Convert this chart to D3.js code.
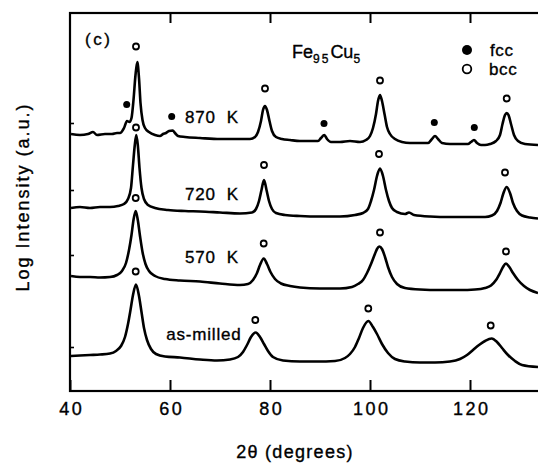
<!DOCTYPE html>
<html><head><meta charset="utf-8">
<script src="https://cdn.jsdelivr.net/npm/d3@7"></script>
<style>
html,body{margin:0;padding:0;background:#fff;}
svg{display:block;}
text{font-family:"Liberation Sans",Arial,Helvetica,sans-serif;fill:#000;stroke:#000;stroke-width:0.35px;}
</style></head><body>
<svg id="chart" width="538" height="467"></svg>
<script>
// ---- data (2θ in degrees, log intensity in arbitrary units) ----
const xTicks = [40, 60, 80, 100, 120];
const topTicks = [60, 80, 100, 120];
const yTickMarks = [5.36, 4.02, 2.72, 0.88];
const curveNames = ["870  K", "720  K", "570  K", "as-milled"];

const scan870 = [[40.2,5.14],[42.0,5.12],[43.6,5.14],[44.6,5.18],[45.4,5.12],[47.0,5.14],[48.4,5.14],[49.4,5.16],[50.0,5.16],[50.8,5.26],[51.4,5.40],[51.9,5.38],[52.3,5.46],[52.7,5.82],[53.1,6.32],[53.46,6.58],[53.8,6.26],[54.1,5.76],[54.5,5.42],[55.0,5.26],[55.8,5.18],[57.0,5.12],[58.0,5.10],[58.6,5.14],[59.2,5.16],[59.8,5.20],[60.54,5.21],[61.0,5.16],[61.6,5.10],[63.0,5.08],[66.0,5.06],[70.0,5.04],[74.0,5.04],[76.0,5.04],[77.0,5.08],[77.6,5.18],[78.2,5.40],[78.6,5.62],[79.0,5.70],[79.4,5.62],[79.9,5.40],[80.4,5.20],[81.2,5.08],[82.4,5.04],[84.0,5.02],[86.0,5.00],[88.0,5.00],[89.6,5.00],[90.2,5.06],[90.86,5.12],[91.4,5.04],[92.2,4.98],[94.0,4.98],[96.0,5.00],[98.0,4.98],[99.2,5.02],[100.0,5.10],[100.6,5.26],[101.2,5.54],[101.6,5.80],[102.0,5.92],[102.4,5.80],[102.9,5.54],[103.4,5.28],[104.0,5.14],[105.0,5.04],[106.4,4.98],[108.0,4.96],[110.0,4.96],[111.6,4.96],[112.4,5.04],[113.0,5.10],[113.6,5.04],[114.4,4.96],[116.0,4.94],[118.0,4.94],[119.6,4.94],[120.2,4.98],[120.8,5.02],[121.4,4.96],[122.2,4.92],[123.0,4.92],[124.0,4.94],[125.2,5.00],[126.0,5.12],[126.5,5.34],[127.0,5.52],[127.34,5.56],[127.7,5.52],[128.2,5.34],[128.8,5.12],[129.6,5.00],[131.0,4.94],[133.6,4.92]];

const scan720 = [[40.2,3.66],[42.0,3.68],[44.0,3.66],[46.0,3.68],[48.0,3.68],[49.6,3.70],[50.8,3.74],[51.6,3.84],[52.2,4.06],[52.6,4.52],[52.96,4.92],[53.26,5.12],[53.56,4.92],[53.9,4.46],[54.3,4.06],[54.8,3.84],[55.6,3.72],[57.0,3.66],[59.6,3.62],[63.0,3.60],[66.0,3.59],[70.0,3.57],[74.0,3.55],[76.4,3.57],[77.2,3.64],[77.8,3.80],[78.3,4.02],[78.8,4.22],[79.3,4.02],[79.8,3.80],[80.4,3.64],[81.2,3.56],[83.0,3.52],[86.0,3.50],[90.0,3.49],[94.0,3.49],[97.0,3.52],[98.6,3.56],[99.6,3.64],[100.2,3.80],[100.8,4.02],[101.4,4.30],[102.0,4.45],[102.6,4.30],[103.2,4.02],[103.8,3.80],[104.4,3.66],[105.4,3.58],[107.0,3.54],[107.8,3.57],[108.8,3.52],[112.0,3.49],[116.0,3.48],[120.0,3.48],[123.0,3.48],[124.4,3.51],[125.4,3.60],[126.1,3.76],[126.7,3.96],[127.34,4.08],[128.0,3.96],[128.6,3.76],[129.4,3.60],[130.4,3.51],[132.0,3.47],[133.6,3.45]];

const scan570 = [[40.2,2.30],[42.0,2.28],[44.0,2.28],[46.0,2.27],[48.0,2.28],[49.4,2.32],[50.4,2.40],[51.2,2.56],[51.8,2.82],[52.3,3.12],[52.7,3.42],[53.14,3.60],[53.56,3.42],[54.0,3.10],[54.5,2.78],[55.1,2.54],[55.8,2.40],[57.0,2.30],[59.0,2.24],[62.0,2.21],[66.0,2.19],[70.0,2.15],[74.0,2.12],[75.6,2.14],[76.6,2.22],[77.4,2.36],[78.0,2.52],[78.74,2.65],[79.4,2.54],[80.1,2.38],[81.0,2.24],[82.2,2.15],[84.0,2.10],[86.0,2.07],[90.0,2.05],[94.0,2.05],[96.4,2.08],[97.6,2.14],[98.6,2.22],[99.4,2.36],[100.2,2.54],[100.9,2.72],[101.4,2.84],[101.86,2.89],[102.4,2.84],[103.0,2.68],[103.6,2.48],[104.4,2.28],[105.4,2.14],[107.0,2.06],[110.0,2.03],[114.0,2.02],[118.0,2.02],[121.0,2.03],[123.0,2.06],[124.2,2.11],[125.2,2.22],[126.0,2.36],[126.6,2.48],[127.2,2.55],[127.8,2.49],[128.6,2.36],[129.6,2.22],[130.8,2.10],[132.0,2.02],[133.6,1.96]];

const scanMilled = [[40.2,0.70],[42.0,0.71],[44.0,0.72],[46.0,0.73],[48.0,0.75],[49.2,0.80],[50.2,0.90],[51.0,1.08],[51.6,1.34],[52.1,1.62],[52.6,1.92],[53.2,2.13],[53.8,1.90],[54.3,1.58],[54.8,1.26],[55.4,1.02],[56.2,0.84],[57.2,0.74],[59.0,0.69],[62.0,0.67],[66.0,0.63],[69.4,0.61],[72.0,0.63],[73.6,0.68],[74.6,0.78],[75.4,0.92],[76.2,1.08],[77.14,1.17],[78.0,1.08],[78.8,0.94],[79.6,0.80],[80.6,0.68],[82.6,0.61],[86.0,0.59],[89.4,0.59],[93.0,0.60],[95.0,0.66],[96.0,0.74],[97.0,0.88],[97.8,1.06],[98.6,1.26],[99.66,1.40],[100.6,1.28],[101.4,1.14],[102.4,0.94],[103.6,0.76],[105.0,0.64],[107.0,0.59],[110.0,0.57],[113.0,0.57],[116.0,0.59],[118.0,0.64],[119.4,0.72],[120.6,0.82],[121.8,0.92],[123.0,1.00],[124.34,1.05],[125.4,0.98],[126.4,0.86],[127.6,0.72],[129.0,0.60],[130.4,0.52],[133.6,0.48]];

// peak markers: [2θ, level]
const bccMarks = [
  [53.2,6.89],[79.0,6.05],[102.0,6.21],[127.34,5.85],
  [53.2,5.27],[78.8,4.52],[101.8,4.74],[127.0,4.37],
  [53.14,3.86],[78.74,2.95],[102.0,3.17],[127.2,2.79],
  [53.14,2.39],[77.06,1.42],[99.66,1.65],[124.14,1.31]
];
const fccMarks = [[51.34,5.73],[60.34,5.49],[90.8,5.35],[112.86,5.37],[120.86,5.27]];

// label anchors [2θ, level, anchor]
const labelPos = [[63.0,5.37,"start"],[63.0,3.82,"start"],[63.0,2.56,"start"],[74.3,1.02,"end"]];

// ---- drawing ----
const svg = d3.select("#chart");
const x = d3.scaleLinear().domain([40, 134]).range([70, 540]);
const y = d3.scaleLinear().domain([0, 7.56]).range([391, 13]);

// frame
svg.append("rect").attr("x", x(40)).attr("y", y(7.56))
  .attr("width", x(134) - x(40)).attr("height", y(0) - y(7.56))
  .attr("fill", "none").attr("stroke", "#000").attr("stroke-width", 2.2);

// bottom axis
const gx = svg.append("g").attr("transform", `translate(0,${y(0)})`)
  .call(d3.axisBottom(x).tickValues(xTicks).tickSizeInner(-11).tickSizeOuter(0).tickPadding(11));
gx.select(".domain").remove();
gx.selectAll(".tick line").attr("stroke", "#000").attr("stroke-width", 2);
gx.selectAll(".tick text").attr("font-size", 18).attr("font-family", '"Liberation Sans",Arial,sans-serif')
  .attr("letter-spacing", 2.6).attr("dx", 1.3).attr("fill", "#000");

// top ticks
const gt = svg.append("g").attr("transform", `translate(0,${y(7.56)})`)
  .call(d3.axisTop(x).tickValues(topTicks).tickSizeInner(-10).tickSizeOuter(0).tickFormat(""));
gt.select(".domain").remove();
gt.selectAll(".tick line").attr("stroke", "#000").attr("stroke-width", 2);

// left small ticks
const gy = svg.append("g").attr("transform", `translate(${x(40)},0)`)
  .call(d3.axisLeft(y).tickValues(yTickMarks).tickSizeInner(-4).tickSizeOuter(0).tickFormat(""));
gy.select(".domain").remove();
gy.selectAll(".tick line").attr("stroke", "#000").attr("stroke-width", 1.6);

// curves
const line = d3.line().x(d => x(d[0])).y(d => y(d[1])).curve(d3.curveMonotoneX);
[scan870, scan720, scan570, scanMilled].forEach(s => {
  svg.append("path").datum(s).attr("d", line)
    .attr("fill", "none").attr("stroke", "#000").attr("stroke-width", 2.6)
    .attr("stroke-linejoin", "round");
});

// markers
svg.append("g").selectAll("circle").data(bccMarks).join("circle")
  .attr("cx", d => x(d[0])).attr("cy", d => y(d[1])).attr("r", 3)
  .attr("fill", "#fff").attr("stroke", "#000").attr("stroke-width", 1.8);
svg.append("g").selectAll("circle").data(fccMarks).join("circle")
  .attr("cx", d => x(d[0])).attr("cy", d => y(d[1])).attr("r", 3.5)
  .attr("fill", "#000");

// curve labels
svg.append("g").selectAll("text").data(curveNames).join("text")
  .attr("x", (d, i) => x(labelPos[i][0])).attr("y", (d, i) => y(labelPos[i][1]))
  .attr("text-anchor", (d, i) => labelPos[i][2])
  .attr("font-size", 17).attr("letter-spacing", 0.8).style("white-space", "pre")
  .text(d => d);

// panel tag
svg.append("text").attr("x", 85).attr("y", 45).attr("font-size", 17)
  .attr("letter-spacing", 2.5).text("(c)");

// title Fe95Cu5
const t = svg.append("text").attr("x", 292).attr("y", 58).attr("font-size", 18);
t.append("tspan").text("Fe");
t.append("tspan").attr("font-size", 12).attr("dy", 5).attr("letter-spacing", 2).text("95");
t.append("tspan").attr("dy", -5).text("Cu");
t.append("tspan").attr("font-size", 12).attr("dy", 5).text("5");

// legend
svg.append("circle").attr("cx", 467).attr("cy", 50).attr("r", 5).attr("fill", "#000");
svg.append("circle").attr("cx", 467).attr("cy", 69).attr("r", 4.3)
  .attr("fill", "#fff").attr("stroke", "#000").attr("stroke-width", 1.8);
svg.append("text").attr("x", 490).attr("y", 56).attr("font-size", 17).attr("letter-spacing", 0.6).text("fcc");
svg.append("text").attr("x", 489).attr("y", 75).attr("font-size", 17).attr("letter-spacing", 0.6).text("bcc");

// axis titles
svg.append("text").attr("x", 295).attr("y", 458).attr("text-anchor", "middle")
  .attr("font-size", 18).attr("letter-spacing", 1.3).text("2θ (degrees)");
svg.append("text").attr("transform", "translate(29,197) rotate(-90)")
  .attr("text-anchor", "middle").attr("font-size", 18).attr("letter-spacing", 2)
  .text("Log Intensity (a.u.)");
</script>
</body></html>
